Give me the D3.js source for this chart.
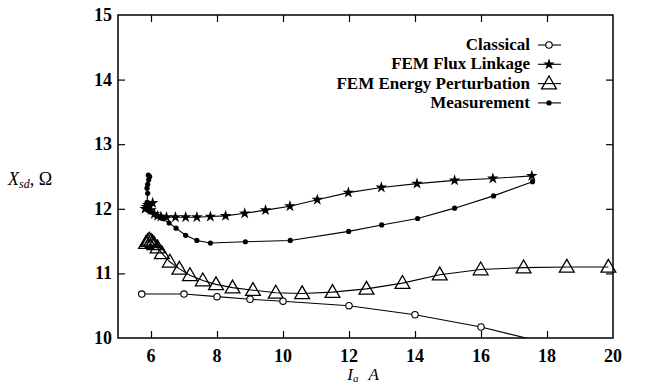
<!DOCTYPE html>
<html><head><meta charset="utf-8">
<script src="https://cdn.jsdelivr.net/npm/d3@7/dist/d3.min.js"></script>
<style>
body{margin:0;background:#fff;}
svg{display:block;}
</style></head>
<body><svg id="c" width="645" height="386"></svg>
<script>
// Data
const seriesNames = ["Classical","FEM Flux Linkage","FEM Energy Perturbation","Measurement"];
const classicalX = [5.72,7,8,9,10,12,14,16,18];
const classicalY = [10.68,10.68,10.64,10.60,10.57,10.50,10.36,10.17,9.92];
const fluxX = [5.82,5.86,5.90,5.95,6.05,6.00,6.10,6.20,6.30,6.47,6.74,7.05,7.39,7.80,8.26,8.84,9.47,10.21,11.04,11.98,12.98,14.06,15.20,16.36,17.54];
const fluxY = [12.00,12.03,12.06,12.04,12.09,11.98,11.92,11.89,11.88,11.87,11.87,11.87,11.87,11.88,11.89,11.93,11.98,12.04,12.14,12.25,12.33,12.39,12.44,12.47,12.51];
const energyX = [5.85,5.90,5.95,6.00,6.05,6.10,6.20,6.33,6.57,6.86,7.18,7.57,7.97,8.47,9.09,9.78,10.58,11.50,12.53,13.62,14.75,15.99,17.29,18.60,19.86];
const energyY = [11.47,11.50,11.52,11.50,11.48,11.45,11.40,11.31,11.18,11.07,10.97,10.89,10.83,10.78,10.74,10.70,10.69,10.71,10.76,10.85,10.98,11.06,11.09,11.10,11.10];
const measX = [5.92,5.96,5.93,5.90,5.88,5.90,5.88,5.86,5.90,6.00,6.15,6.35,6.55,6.76,7.05,7.39,7.80,8.86,10.22,11.99,12.99,14.08,15.20,16.38,17.56];
const measY = [12.52,12.50,12.45,12.38,12.32,12.24,12.10,12.02,11.98,11.95,11.90,11.85,11.78,11.70,11.59,11.51,11.47,11.49,11.51,11.65,11.75,11.85,12.01,12.20,12.42];
const xTicks = [6,8,10,12,14,16,18,20];
const yTicks = [10,11,12,13,14,15];

const FONT="'Liberation Serif', 'Times New Roman', Times, serif";
const W=645,H=386, m={l:118,r:32,t:15,b:48};
const svg=d3.select("#c").attr("font-family",FONT);
const x=d3.scaleLinear().domain([5,20]).range([m.l,W-m.r]);
const y=d3.scaleLinear().domain([10,15]).range([H-m.b,m.t]);
const zip=(a,b)=>a.map((v,i)=>[v,b[i]]);
const series=[zip(classicalX,classicalY),zip(fluxX,fluxY),zip(energyX,energyY),zip(measX,measY)];

svg.append("defs").append("clipPath").attr("id","clip").append("rect")
  .attr("x",m.l).attr("y",m.t).attr("width",W-m.l-m.r).attr("height",H-m.t-m.b);

// ticks (inward, all sides)
const tl=7;
const axB=d3.axisBottom(x).tickValues(xTicks.filter(d=>d<20)).tickSize(-tl).tickFormat("");
const axT=d3.axisTop(x).tickValues(xTicks.filter(d=>d<20)).tickSize(-tl).tickFormat("");
const axL=d3.axisLeft(y).tickValues(yTicks.filter(d=>d>10&&d<15)).tickSize(-tl).tickFormat("");
const axR=d3.axisRight(y).tickValues(yTicks.filter(d=>d>10&&d<15)).tickSize(-tl).tickFormat("");
[[axB,`translate(0,${H-m.b})`],[axT,`translate(0,${m.t})`],[axL,`translate(${m.l},0)`],[axR,`translate(${W-m.r},0)`]].forEach(([a,t])=>{
  const g=svg.append("g").attr("transform",t).call(a);
  g.select(".domain").remove();
  g.selectAll("line").attr("stroke","#000").attr("stroke-width",1.2);
});
svg.append("rect").attr("x",m.l).attr("y",m.t).attr("width",W-m.l-m.r).attr("height",H-m.t-m.b)
  .attr("fill","none").attr("stroke","#000").attr("stroke-width",1.5);

// tick labels
svg.append("g").selectAll("text").data(xTicks).join("text")
  .attr("font-family",FONT)
  .attr("x",d=>x(d)).attr("y",H-m.b+24).attr("text-anchor","middle")
  .attr("font-size",18).attr("font-weight","bold").text(d=>d);
svg.append("g").selectAll("text").data(yTicks).join("text")
  .attr("font-family",FONT)
  .attr("x",m.l-6).attr("y",d=>y(d)+6).attr("text-anchor","end")
  .attr("font-size",18).attr("font-weight","bold").text(d=>d);

// axis titles
const xt=svg.append("text").attr("font-family",FONT).attr("x",363).attr("y",380).attr("text-anchor","middle").attr("font-size",17);
xt.append("tspan").attr("font-style","italic").text("I");
xt.append("tspan").attr("font-style","italic").attr("font-size",11).attr("dy",2).text("a");
xt.append("tspan").attr("font-style","italic").attr("dy",-2).attr("dx",10).text("A");
const yt=svg.append("text").attr("font-family",FONT).attr("x",8).attr("y",185).attr("font-size",18);
yt.append("tspan").attr("font-style","italic").text("X");
yt.append("tspan").attr("font-style","italic").attr("font-size",12).attr("dy",3).text("sd");
yt.append("tspan").attr("dy",-3).text(", Ω");

// lines
const line=d3.line().x(d=>x(d[0])).y(d=>y(d[1]));
const gl=svg.append("g").attr("clip-path","url(#clip)");
series.forEach(s=>gl.append("path").attr("d",line(s)).attr("fill","none").attr("stroke","#000").attr("stroke-width",1.1));

// markers
const inDom=d=>d[0]>=5&&d[0]<=20&&d[1]>=10&&d[1]<=15;
const tri=d3.symbol().type(d3.symbolTriangle).size(95);
const star=d3.symbol().type(d3.symbolStar).size(42);
function marker(g,k,px,py){
  if(k===0) g.append("circle").attr("cx",px).attr("cy",py).attr("r",3.2).attr("fill","#fff").attr("stroke","#000").attr("stroke-width",1.1);
  if(k===1) g.append("path").attr("d",star()).attr("transform",`translate(${px},${py})`).attr("fill","#000");
  if(k===2) g.append("path").attr("d",tri()).attr("transform",`translate(${px},${py+1})`).attr("fill","none").attr("stroke","#000").attr("stroke-width",1.3);
  if(k===3) g.append("circle").attr("cx",px).attr("cy",py).attr("r",2.6).attr("fill","#000");
}
const gm=svg.append("g");
[2,0,1,3].forEach(k=>series[k].filter(inDom).forEach(d=>marker(gm,k,x(d[0]),y(d[1]))));

// legend
const lg=svg.append("g");
seriesNames.forEach((n,i)=>{
  const yy=45+i*19.3;
  lg.append("text").attr("font-family",FONT).attr("x",530).attr("y",yy+5).attr("text-anchor","end").attr("font-size",17).attr("font-weight","bold").text(n);
  lg.append("line").attr("x1",538).attr("x2",561).attr("y1",yy).attr("y2",yy).attr("stroke","#000").attr("stroke-width",1.1);
  marker(lg,i,549,yy);
});
</script></body></html>
